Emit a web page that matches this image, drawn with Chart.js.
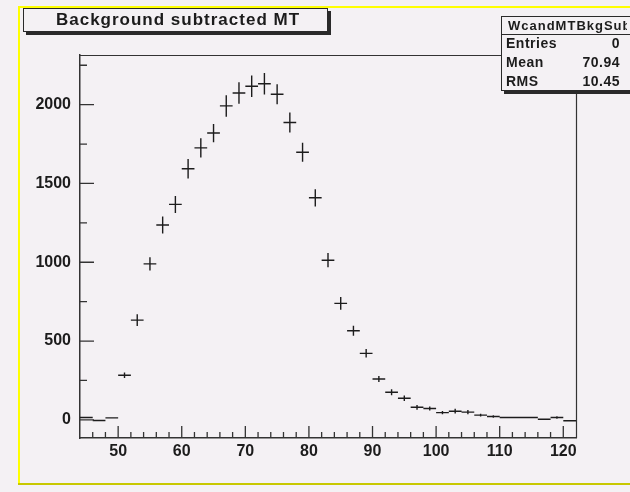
<!DOCTYPE html>
<html>
<head>
<meta charset="utf-8">
<script src="https://cdn.jsdelivr.net/npm/chart.js@4.4.1/dist/chart.umd.min.js"></script>
<style>
  html, body { margin: 0; padding: 0; background: #f4f1f4; }
</style>
</head>
<body>
<canvas id="mt-chart" width="630" height="492"></canvas>
<script>
// bin centres (bins are 2 wide, 44..122)
const binCenters = [45, 47, 49, 51, 53, 55, 57, 59, 61, 63, 65, 67, 69, 71, 73, 75, 77, 79, 81,
    83, 85, 87, 89, 91, 93, 95, 97, 99, 101, 103, 105, 107, 109, 111, 113, 115, 117, 119, 121];
const counts = [15, -4, 13, 283, 633, 990, 1236, 1367, 1593, 1726, 1820, 1992, 2074, 2117, 2133, 2066, 1887, 1698, 1409,
    1013, 739, 565, 422, 259, 175, 137, 80, 72, 46, 55, 49, 30, 21, 15, 15, 15, 4, 15, -6];
const errors = [0, 0, 0, 17, 37, 42, 54, 54, 62, 61, 58, 68, 68, 68, 68, 63, 63, 60, 55,
    45, 40, 32, 27, 19, 19, 17, 15, 13, 11, 15, 13, 9, 8, 4, 4, 0, 0, 8, 0];
const binWidth = 2;

const xRange = [44, 122];
const yRange = [-115, 2315];

const histTitle = 'Background subtracted MT';
const statsName = 'WcandMTBkgSub';
const statsLabels = ['Entries', 'Mean', 'RMS'];
const statsValues = ['0', '70.94', '10.45'];

const bg = '#f4f1f4';
const ink = '#1c1c1c';
const boldFont = (size) => `bold ${size}px "Liberation Sans", Arial, sans-serif`;

const pave = (ctx, x1, y1, x2, y2) => {
    ctx.fillStyle = '#2a2a2a';
    ctx.fillRect(x1 + 3, y1 + 3, x2 - x1, y2 - y1);
    ctx.fillStyle = bg;
    ctx.fillRect(x1, y1, x2 - x1, y2 - y1);
    ctx.strokeStyle = '#2a2a2a';
    ctx.lineWidth = 1;
    ctx.strokeRect(x1 + 0.5, y1 + 0.5, x2 - x1 - 1, y2 - y1 - 1);
};

const canvasFrame = {
    id: 'canvasFrame',
    beforeDraw(chart) {
        const { ctx, width, height } = chart;
        ctx.save();
        ctx.fillStyle = bg;
        ctx.fillRect(0, 0, width, height);
        ctx.fillStyle = '#ffff00';
        ctx.fillRect(18, 6, width - 18, 2);
        ctx.fillRect(18, 6, 2, 479);
        ctx.fillStyle = '#c8c800';
        ctx.fillRect(18, 483, width - 18, 2);

        pave(ctx, 23, 8, 328, 32);
        ctx.fillStyle = ink;
        ctx.font = boldFont(17);
        ctx.letterSpacing = '1px';
        ctx.textAlign = 'center';
        ctx.textBaseline = 'alphabetic';
        ctx.fillText(histTitle, 178, 25);
        ctx.restore();
    },
};

const insideTicks = {
    id: 'insideTicks',
    afterDraw(chart) {
        const { ctx, chartArea: a, scales: { x, y } } = chart;
        ctx.save();
        ctx.strokeStyle = '#333';
        ctx.lineWidth = 1.3;
        ctx.beginPath();
        x.ticks.forEach((t) => {
            if (t.value <= x.min || t.value >= x.max) return;
            const px = x.getPixelForValue(t.value);
            const len = t.value % 10 === 0 ? 12 : 6;
            ctx.moveTo(px, a.bottom);
            ctx.lineTo(px, a.bottom - len);
        });
        y.ticks.forEach((t) => {
            if (t.value <= y.min || t.value >= y.max) return;
            const py = y.getPixelForValue(t.value);
            const len = t.value % 500 === 0 ? 14 : 7;
            ctx.moveTo(a.left, py);
            ctx.lineTo(a.left + len, py);
        });
        ctx.stroke();

        ctx.strokeStyle = '#333';
        ctx.lineWidth = 1.2;
        ctx.beginPath();
        ctx.moveTo(a.left, Math.round(a.top) + 0.5);
        ctx.lineTo(a.right, Math.round(a.top) + 0.5);
        ctx.moveTo(Math.round(a.right) + 0.5, a.top);
        ctx.lineTo(Math.round(a.right) + 0.5, a.bottom);
        ctx.stroke();

        // stats box, runs off the right edge like the original
        pave(ctx, 501, 16, 631, 91);
        ctx.strokeStyle = '#2a2a2a';
        ctx.beginPath();
        ctx.moveTo(501, 34.5);
        ctx.lineTo(631, 34.5);
        ctx.stroke();
        ctx.save();
        ctx.beginPath();
        ctx.rect(501, 16, 126, 18);
        ctx.clip();
        ctx.fillStyle = ink;
        ctx.font = boldFont(13);
        ctx.letterSpacing = '1px';
        ctx.textAlign = 'left';
        ctx.fillText(statsName, 508, 29.5);
        ctx.restore();
        ctx.fillStyle = ink;
        ctx.font = boldFont(14);
        ctx.letterSpacing = '0.5px';
        statsLabels.forEach((label, i) => {
            const base = 48 + i * 19.2;
            ctx.textAlign = 'left';
            ctx.fillText(label, 506, base);
            ctx.textAlign = 'right';
            ctx.fillText(statsValues[i], 620, base);
        });
        ctx.restore();
    },
};

const errorCross = {
    id: 'errorCross',
    afterDatasetsDraw(chart) {
        const { ctx, scales: { x, y } } = chart;
        ctx.save();
        ctx.strokeStyle = ink;
        ctx.lineWidth = 1.4;
        ctx.beginPath();
        binCenters.forEach((c, i) => {
            const py = y.getPixelForValue(counts[i]);
            ctx.moveTo(x.getPixelForValue(c - binWidth / 2), py);
            ctx.lineTo(x.getPixelForValue(c + binWidth / 2), py);
            if (errors[i] > 0) {
                const px = x.getPixelForValue(c);
                ctx.moveTo(px, y.getPixelForValue(counts[i] - errors[i]));
                ctx.lineTo(px, y.getPixelForValue(counts[i] + errors[i]));
            }
        });
        ctx.stroke();
        ctx.restore();
    },
};

new Chart(document.getElementById('mt-chart').getContext('2d'), {
    type: 'scatter',
    data: {
        datasets: [
            {
                label: statsName,
                data: binCenters.map((c, i) => ({ x: c, y: counts[i] })),
                pointRadius: 0,
                showLine: false,
            },
        ],
    },
    options: {
        responsive: false,
        animation: false,
        layout: { padding: { top: 55, right: 54, bottom: 0, left: 0 } },
        plugins: {
            legend: { display: false },
            tooltip: { enabled: false },
        },
        scales: {
            x: {
                type: 'linear',
                min: xRange[0],
                max: xRange[1],
                afterFit: (scale) => { scale.height = 54; },
                grid: { display: false, drawTicks: false },
                border: { display: true, color: '#333', width: 1.5 },
                ticks: {
                    stepSize: 2,
                    maxTicksLimit: 100,
                    autoSkip: false,
                    maxRotation: 0,
                    includeBounds: false,
                    padding: 4,
                    color: ink,
                    font: { family: '"Liberation Sans", Arial, sans-serif', size: 16, weight: 'bold' },
                    callback: (v) => (v % 10 === 0 ? v : ''),
                },
            },
            y: {
                type: 'linear',
                min: yRange[0],
                max: yRange[1],
                afterFit: (scale) => { scale.width = 80; },
                grid: { display: false, drawTicks: false },
                border: { display: true, color: '#333', width: 1.5 },
                ticks: {
                    stepSize: 250,
                    maxTicksLimit: 100,
                    autoSkip: false,
                    includeBounds: false,
                    padding: 9,
                    color: ink,
                    font: { family: '"Liberation Sans", Arial, sans-serif', size: 16, weight: 'bold' },
                    callback: (v) => (v % 500 === 0 ? v : ''),
                },
            },
        },
    },
    plugins: [canvasFrame, errorCross, insideTicks],
});
</script>
</body>
</html>
